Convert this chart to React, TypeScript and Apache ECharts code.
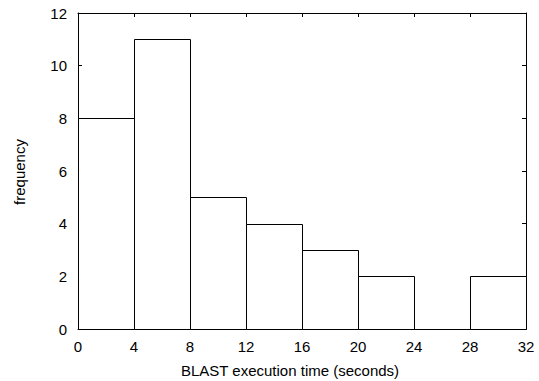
import React, { useEffect, useRef } from "react";
import * as echarts from "echarts";

const binStarts = [0, 4, 8, 12, 16, 20, 24, 28];
const binWidth = 4;
const frequencies = [8, 11, 5, 4, 3, 2, 0, 2];
const xTicks = [0, 4, 8, 12, 16, 20, 24, 28, 32];
const yTicks = [0, 2, 4, 6, 8, 10, 12];
const xTitle = "BLAST execution time (seconds)";
const yTitle = "frequency";

const FONT = "Liberation Sans, Arial, Helvetica, sans-serif";

export default function App() {
  const ref = useRef<HTMLDivElement>(null);
  useEffect(() => {
    if (!ref.current) return;
    const chart = echarts.init(ref.current, undefined, { renderer: "svg" });
    const data = binStarts.map((s, i) => [s, s + binWidth, frequencies[i]]);
    const axisCommon = {
      type: "value" as const,
      splitLine: { show: false },
      axisLine: { show: true, onZero: false, lineStyle: { color: "#000", width: 1 } },
      axisTick: { show: true, inside: true, length: 4, lineStyle: { color: "#000", width: 1 } },
    };
    chart.setOption({
      animation: false,
      backgroundColor: "#fff",
      grid: { left: 78, top: 13, right: 13, bottom: 52, containLabel: false },
      xAxis: [
        {
          ...axisCommon,
          position: "bottom",
          min: xTicks[0],
          max: xTicks[xTicks.length - 1],
          interval: 4,
          axisLabel: { show: true, margin: 10, color: "#000", fontSize: 15, fontFamily: FONT },
        },
        {
          ...axisCommon,
          position: "top",
          min: xTicks[0],
          max: xTicks[xTicks.length - 1],
          interval: 4,
          axisLabel: { show: false },
        },
      ],
      yAxis: [
        {
          ...axisCommon,
          position: "left",
          min: yTicks[0],
          max: yTicks[yTicks.length - 1],
          interval: 2,
          axisLabel: { show: true, margin: 11, color: "#000", fontSize: 15, fontFamily: FONT },
        },
        {
          ...axisCommon,
          position: "right",
          min: yTicks[0],
          max: yTicks[yTicks.length - 1],
          interval: 2,
          axisLabel: { show: false },
        },
      ],
      graphic: [
        {
          type: "text",
          x: 290,
          y: 370,
          style: {
            text: xTitle,
            fontSize: 15,
            fontFamily: FONT,
            fill: "#000",
            align: "center",
            verticalAlign: "middle",
          },
        },
        {
          type: "text",
          x: 19,
          y: 172,
          rotation: Math.PI / 2,
          style: {
            text: yTitle,
            fontSize: 15,
            fontFamily: FONT,
            fill: "#000",
            align: "center",
            verticalAlign: "middle",
          },
        },
      ],
      series: [
        {
          type: "custom",
          xAxisIndex: 0,
          yAxisIndex: 0,
          data,
          renderItem: (params: any, api: any) => {
            const p0 = api.coord([api.value(0), api.value(2)]);
            const p1 = api.coord([api.value(1), 0]);
            return {
              type: "rect",
              shape: {
                x: Math.round(p0[0]) + 0.5,
                y: Math.round(p0[1]) + 0.5,
                width: Math.round(p1[0]) - Math.round(p0[0]),
                height: Math.round(p1[1]) - Math.round(p0[1]),
              },
              style: { fill: "#fff", stroke: "#000", lineWidth: 1 },
            };
          },
        },
      ],
    });
    return () => chart.dispose();
  }, []);
  return (
    <div
      ref={ref}
      style={{ position: "absolute", left: 0, top: 0, width: 539, height: 381 }}
    />
  );
}
